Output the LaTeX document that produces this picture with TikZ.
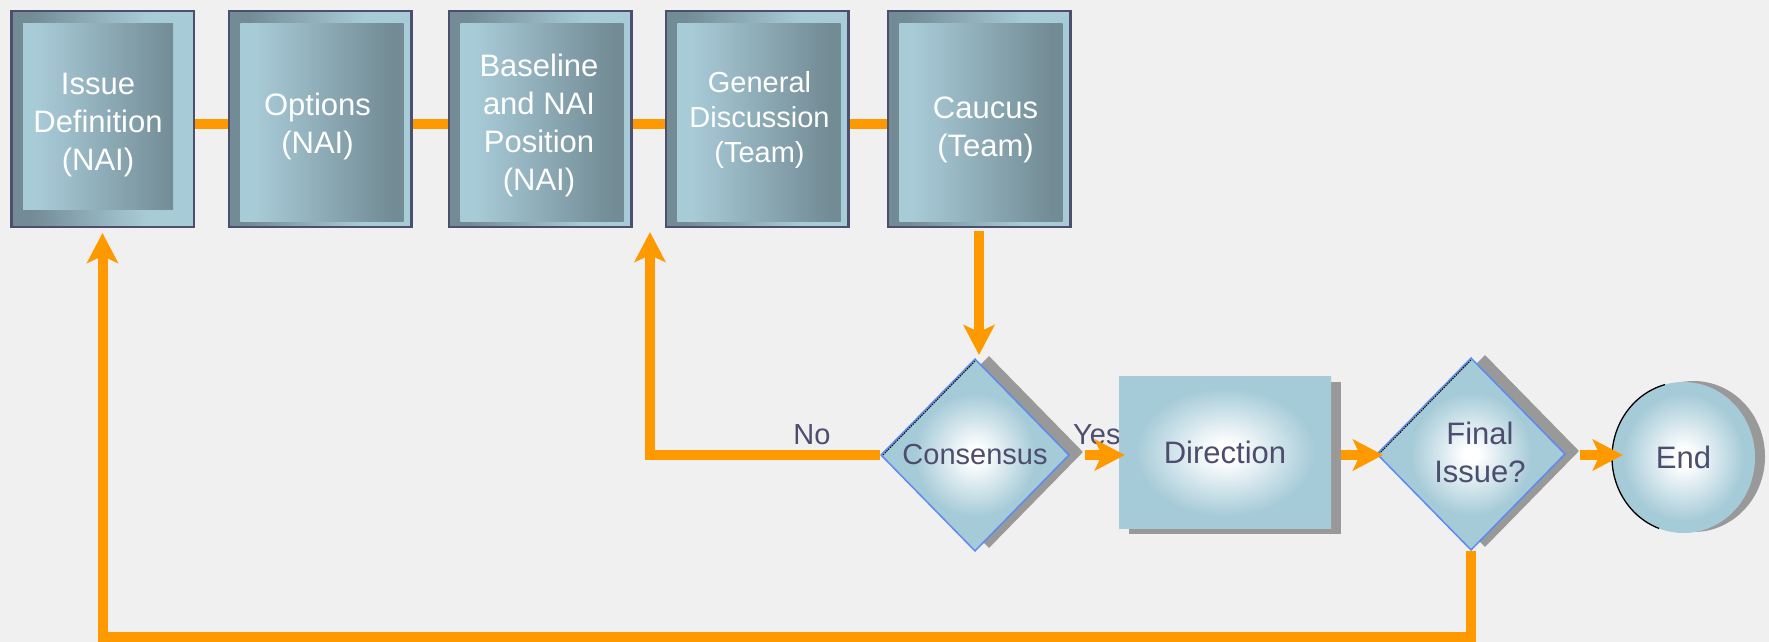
\documentclass[tikz,border=0pt]{standalone}
\usepackage{fontspec}
\setmainfont{Liberation Sans}
\usetikzlibrary{arrows.meta,shapes.geometric,shadows,calc}

\definecolor{bg}{HTML}{F0F0F0}
\definecolor{boxdark}{HTML}{728B94}
\definecolor{boxlight}{HTML}{A8CBD8}
\definecolor{boxedge}{HTML}{4E4E6E}
\definecolor{glowblue}{HTML}{A6CBD8}
\definecolor{diaedge}{HTML}{5B8AF0}
\definecolor{flow}{HTML}{FF9900}
\definecolor{ink}{HTML}{4D4D6D}
\definecolor{shadowgray}{HTML}{999999}

% frame of a stage box: dark on the left, light on the right
\pgfdeclarehorizontalshading{framefade}{100bp}{color(0bp)=(boxdark); color(30bp)=(boxdark); color(62bp)=(boxlight); color(100bp)=(boxlight)}
% inner panel of a stage box: light on the left, dark on the right
\pgfdeclarehorizontalshading{panelfade}{100bp}{color(0bp)=(boxlight); color(32bp)=(boxlight); color(70bp)=(boxdark); color(100bp)=(boxdark)}
% white glow in the middle of the lower shapes
\pgfdeclareradialshading{glowbox}{\pgfpoint{0bp}{0bp}}{color(0bp)=(white); color(3bp)=(white); color(21bp)=(glowblue); color(50bp)=(glowblue)}
\pgfdeclareradialshading{glowdia}{\pgfpoint{0bp}{0bp}}{color(0bp)=(white); color(2bp)=(white); color(16bp)=(glowblue); color(50bp)=(glowblue)}

\pgfdeclarelayer{back}
\pgfdeclarelayer{links}
\pgfsetlayers{back,links,main}

\begin{document}
\begin{tikzpicture}[x=1pt, y=-1pt,
  flowline/.style={draw=flow, line width=10pt, line join=miter},
  flowarrow/.style={flowline, -{Stealth[length=30pt, width=31pt, inset=7pt]}},
  panel/.style n args={4}{path picture={\shade[shading=panelfade]
      ([shift={(#1pt,-#2pt)}]path picture bounding box.north west) rectangle
      ([shift={(-#3pt,#4pt)}]path picture bounding box.south east);}},
  stage/.style={rectangle, minimum width=182.5pt, minimum height=215.5pt, inner sep=0pt,
      shade, shading=framefade, draw=boxedge, line width=2.5pt, panel={11.5}{12.75}{7.75}{5.75}},
  stagetext/.style={text=white, align=center, inner sep=0pt, font=\fontsize{31}{38}\selectfont},
  labeltext/.style={text=ink, inner sep=0pt, font=\fontsize{29}{35}\selectfont},
  decision/.style={diamond, minimum width=188.5pt, minimum height=192.5pt, inner sep=0pt,
      shade, shading=glowdia, draw=diaedge, line width=1.5pt,
      drop shadow={shadow xshift=14pt, shadow yshift=3pt, fill=shadowgray, opacity=1},
      text=ink, align=center},
  action/.style={rectangle, minimum width=212pt, minimum height=152pt, inner sep=0pt,
      shade, shading=glowbox,
      drop shadow={shadow xshift=10pt, shadow yshift=-6pt, fill=shadowgray, opacity=1},
      text=ink, font=\fontsize{31}{38}\selectfont},
  terminal/.style={ellipse, minimum width=143pt, minimum height=151pt, inner sep=0pt,
      shade, shading=glowbox,
      drop shadow={shadow xshift=10pt, shadow yshift=1pt, fill=shadowgray, opacity=1},
      text=ink, font=\fontsize{31}{38}\selectfont},
  rimline/.style={black, line width=1pt, dash pattern=on 1.5pt off 1pt}
]
\useasboundingbox (0,0) rectangle (1769,642);
\begin{pgfonlayer}{back}
  \fill[bg] (0,0) rectangle (1769,642);
\end{pgfonlayer}

% stage boxes along the top
\node[stage, panel={11.75}{12.75}{20.75}{17.75}] (b1) at (102.5,119) {};
\node[stage] (b2) at (320,119) {};
\node[stage] (b3) at (540,119) {};
\node[stage] (b4) at (757,119) {};
\node[stage] (b5) at (979,119) {};

\node[stagetext] (t1) at (98,125.5) {Issue\\Definition\\(NAI)};
\node[stagetext] (t2) at (317.5,126.5) {Options\\(NAI)};
\node[stagetext] (t3) at (539,125.5) {Baseline\\and NAI\\Position\\(NAI)};
\node[stagetext, font=\fontsize{29}{35}\selectfont] (t4) at (759.5,120) {General\\Discussion\\(Team)};
\node[stagetext] (t5) at (985.5,129.5) {Caucus\\(Team)};

% joins between the stage boxes
\begin{pgfonlayer}{links}
  \draw[flowline] ([yshift=-5pt]b1.east) -- ([yshift=-5pt]b2.west);
  \draw[flowline] ([yshift=-5pt]b2.east) -- ([yshift=-5pt]b3.west);
  \draw[flowline] ([yshift=-5pt]b3.east) -- ([yshift=-5pt]b4.west);
  \draw[flowline] ([yshift=-5pt]b4.east) -- ([yshift=-5pt]b5.west);
\end{pgfonlayer}

% branch labels
\node[labeltext] (nolabel) at (812,434.5) {No};
\node[labeltext, anchor=west] (yeslabel) at (1073,434.5) {Yes};

% lower row
\node[decision, font=\fontsize{29}{35}\selectfont] (cons) at (975,455) {Consensus};
\node[action] (dir) at (1225,452) {Direction};
\node[decision] (fin) at (1471,454) {};
\node[stagetext, text=ink] (fint) at (1480,452.5) {Final\\Issue?};
\node[terminal] (endn) at (1683.5,457.5) {End};

% dark rims on the upper left of the lower shapes
\draw[rimline] ([xshift=3pt]cons.west) -- ([yshift=-3pt]cons.north);
\draw[rimline] ([xshift=3pt]fin.west) -- ([yshift=-3pt]fin.north);
\draw[black, line width=1.3pt] ($(endn.center)+(105:71.5pt and 75.5pt)$)
  arc[start angle=105, end angle=250, x radius=71.5pt, y radius=75.5pt];

% flow
\coordinate (retop) at (650,232);
\coordinate (bot) at (0,637);
\draw[flowarrow, shorten <=3pt, shorten >=3pt] (b5.south) -- (b5.south |- cons.north);
\draw[flowarrow] (cons.west) -| (retop);
\draw[flowarrow, shorten <=15pt, shorten >=-6pt] (cons.east) -- (cons.east -| dir.west);
\draw[flowarrow, shorten <=10pt, shorten >=-7pt] ([yshift=-3pt]dir.east) -- ([yshift=-3pt]dir.east -| fin.west);
\draw[flowarrow, shorten <=14pt, shorten >=-11pt] ([yshift=-1pt]fin.east) -- ([yshift=-1pt]fin.east -| endn.west);
\draw[flowarrow, shorten >=5pt] (fin.south) -- (fin.south |- bot) -| (b1.south);
\end{tikzpicture}
\end{document}
